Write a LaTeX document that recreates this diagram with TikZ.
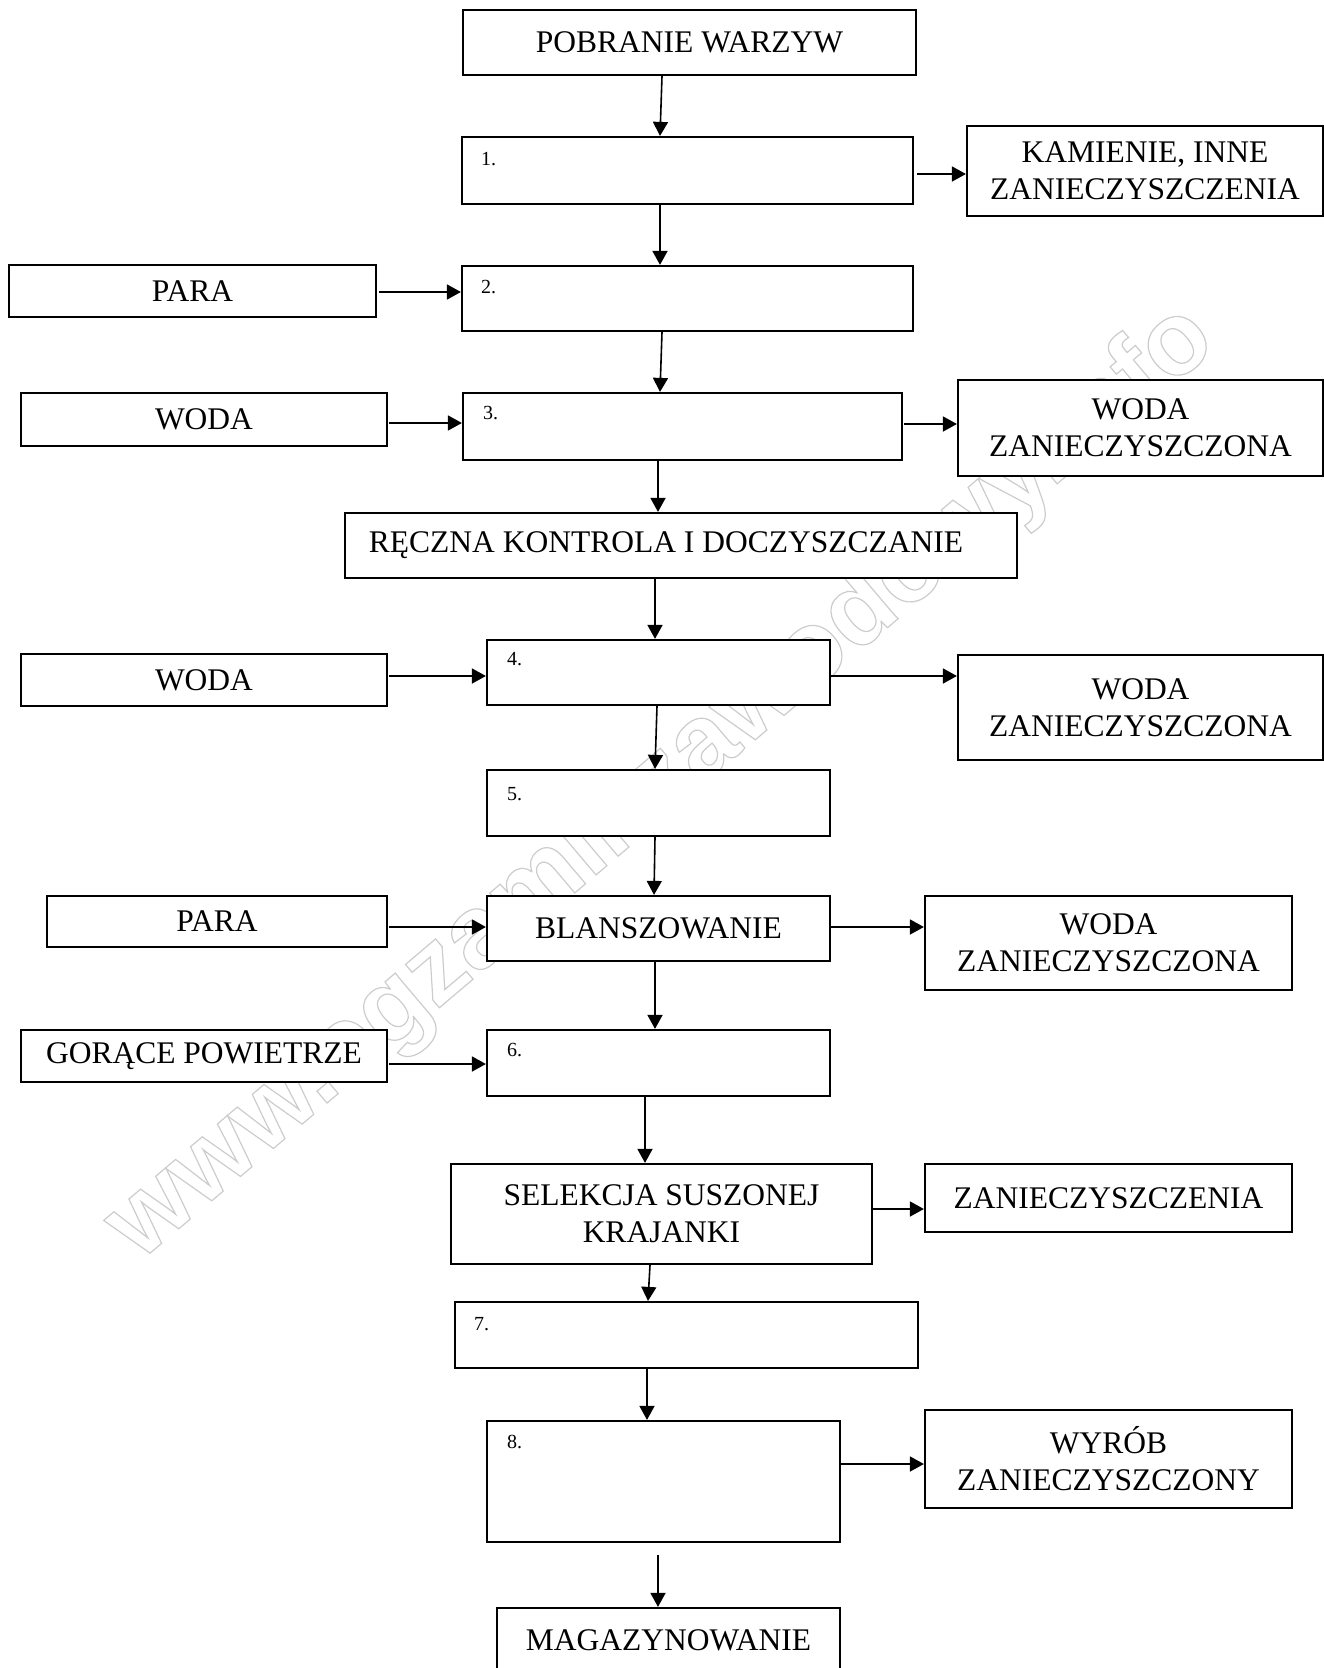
\documentclass[tikz,border=0pt]{standalone}
\usepackage{fontspec}
\setmainfont{Liberation Serif}
\newfontfamily\wmfont{Liberation Sans}
\usetikzlibrary{arrows.meta}
\begin{document}
\begin{tikzpicture}[x=1pt,y=-1pt,
  box/.style={draw, fill=white, line width=2.2pt, inner sep=0pt, align=center, font=\fontsize{31.5}{37}\selectfont},
  sz/.style 2 args={minimum width=#1pt, minimum height=#2pt},
  num/.style={anchor=base west, inner sep=0pt, font=\fontsize{20}{24}\selectfont},
  arr/.style={line width=1.6pt, -{Triangle[length=14pt,width=15pt]}},
  wmark/.style={rotate=40.3, inner sep=0pt, text=black!20, font=\wmfont\bfseries\fontsize{104}{110}\selectfont}
]
\useasboundingbox (0,0) rectangle (1324,1668);
\clip (0,0) rectangle (1324,1668);

% watermark (behind the boxes)
\node[wmark] (wm) at (662,784) {\special{pdf:literal direct 1 Tr 1.2 w}www.egzaminzawodowy.info\special{pdf:literal direct 0 Tr}};

% main column
\node[box, sz={453}{65}] (pob) at (689.5,42.5) {POBRANIE WARZYW};
\node[box, sz={451}{67}] (b1) at (687.5,170.5) {};
\node[box, sz={451}{65}] (b2) at (687.5,298.5) {};
\node[box, sz={439}{67}] (b3) at (682.5,426.5) {};
\node[box, sz={672}{65}] (rec) at (681,545.5) {RĘCZNA KONTROLA I DOCZYSZCZANIE\hspace*{30pt}};
\node[box, sz={343}{65}] (b4) at (658.5,672.5) {};
\node[box, sz={343}{66}] (b5) at (658.5,803) {};
\node[box, sz={343}{65}] (bla) at (658.5,928.5) {BLANSZOWANIE};
\node[box, sz={343}{66}] (b6) at (658.5,1063) {};
\node[box, sz={421}{100}] (sel) at (661.5,1214) {SELEKCJA SUSZONEJ\\KRAJANKI};
\node[box, sz={463}{66}] (b7) at (686.5,1335) {};
\node[box, sz={353}{121}] (b8) at (663.5,1481.5) {};
\node[box, sz={343}{64}] (mag) at (668.5,1640) {MAGAZYNOWANIE};

% left inputs
\node[box, sz={367}{52}] (para1) at (192.5,291) {PARA};
\node[box, sz={366}{53}] (woda1) at (204,419.5) {WODA};
\node[box, sz={366}{52}] (woda2) at (204,680) {WODA};
\node[box, sz={340}{51}] (para2) at (217,921.5) {PARA};
\node[box, sz={366}{52}] (gor) at (204,1056) {GORĄCE POWIETRZE};

% right outputs
\node[box, sz={356}{90}] (kam) at (1145,171) {KAMIENIE, INNE\\ZANIECZYSZCZENIA};
\node[box, sz={365}{96}] (wz1) at (1140.5,428) {WODA\\ZANIECZYSZCZONA};
\node[box, sz={365}{105}] (wz2) at (1140.5,707.5) {WODA\\ZANIECZYSZCZONA};
\node[box, sz={367}{94}] (wz3) at (1108.5,943) {WODA\\ZANIECZYSZCZONA};
\node[box, sz={367}{68}] (zan) at (1108.5,1198) {ZANIECZYSZCZENIA};
\node[box, sz={367}{98}] (wyr) at (1108.5,1459) {WYRÓB\\ZANIECZYSZCZONY};

% step numbers
\node[num] (n1) at ([shift={(20,30)}]b1.north west) {1.};
\node[num] (n2) at ([shift={(20,29)}]b2.north west) {2.};
\node[num] (n3) at ([shift={(21,28)}]b3.north west) {3.};
\node[num] (n4) at ([shift={(21,27)}]b4.north west) {4.};
\node[num] (n5) at ([shift={(21,32)}]b5.north west) {5.};
\node[num] (n6) at ([shift={(21,28)}]b6.north west) {6.};
\node[num] (n7) at ([shift={(20,30)}]b7.north west) {7.};
\node[num] (n8) at ([shift={(21,29)}]b8.north west) {8.};

% vertical arrows
\draw[arr] ([xshift=-27.5pt]pob.south) -- ([xshift=-27.5pt]b1.north);
\draw[arr] ([xshift=-27.5pt]b1.south) -- ([xshift=-27.5pt]b2.north);
\draw[arr] ([xshift=-25.5pt]b2.south) -- ([xshift=-22.5pt]b3.north);
\draw[arr] ([xshift=-24.5pt]b3.south) -- ([xshift=-23pt]rec.north);
\draw[arr] ([xshift=-26pt]rec.south) -- ([xshift=-3.5pt]b4.north);
\draw[arr] ([xshift=-1.5pt]b4.south) -- ([xshift=-3.5pt]b5.north);
\draw[arr] ([xshift=-3.5pt]b5.south) -- ([xshift=-4.5pt]bla.north);
\draw[arr] ([xshift=-3.5pt]bla.south) -- ([xshift=-3.5pt]b6.north);
\draw[arr] ([xshift=-13.5pt]b6.south) -- ([xshift=-16.5pt]sel.north);
\draw[arr] ([xshift=-11.5pt]sel.south) -- ([xshift=-38.5pt]b7.north);
\draw[arr] ([xshift=-39.5pt]b7.south) -- ([xshift=-16.5pt]b8.north);
\draw[arr] ([shift={(-5.5,12)}]b8.south) -- ([xshift=-10.5pt]mag.north);

% horizontal arrows
\draw[arr] ([shift={(3,3.5)}]b1.east) -- ([shift={(0,3)}]kam.west);
\draw[arr] ([shift={(2,1)}]para1.east) -- ([shift={(0,-6.5)}]b2.west);
\draw[arr] ([shift={(1,3.5)}]woda1.east) -- ([shift={(0,-3.5)}]b3.west);
\draw[arr] ([shift={(1,-2.5)}]b3.east) -- ([shift={(0,-4)}]wz1.west);
\draw[arr] ([shift={(1,-4)}]woda2.east) -- ([shift={(0,3.5)}]b4.west);
\draw[arr] ([shift={(0,3.5)}]b4.east) -- ([shift={(0,-31.5)}]wz2.west);
\draw[arr] ([shift={(1,5.5)}]para2.east) -- ([shift={(0,-1.5)}]bla.west);
\draw[arr] ([shift={(0,-1.5)}]bla.east) -- ([shift={(0,-16)}]wz3.west);
\draw[arr] ([shift={(1,8)}]gor.east) -- ([shift={(0,1)}]b6.west);
\draw[arr] ([shift={(0,-5)}]sel.east) -- ([shift={(0,11)}]zan.west);
\draw[arr] ([shift={(0,-17.5)}]b8.east) -- ([shift={(0,5)}]wyr.west);
\end{tikzpicture}
\end{document}
